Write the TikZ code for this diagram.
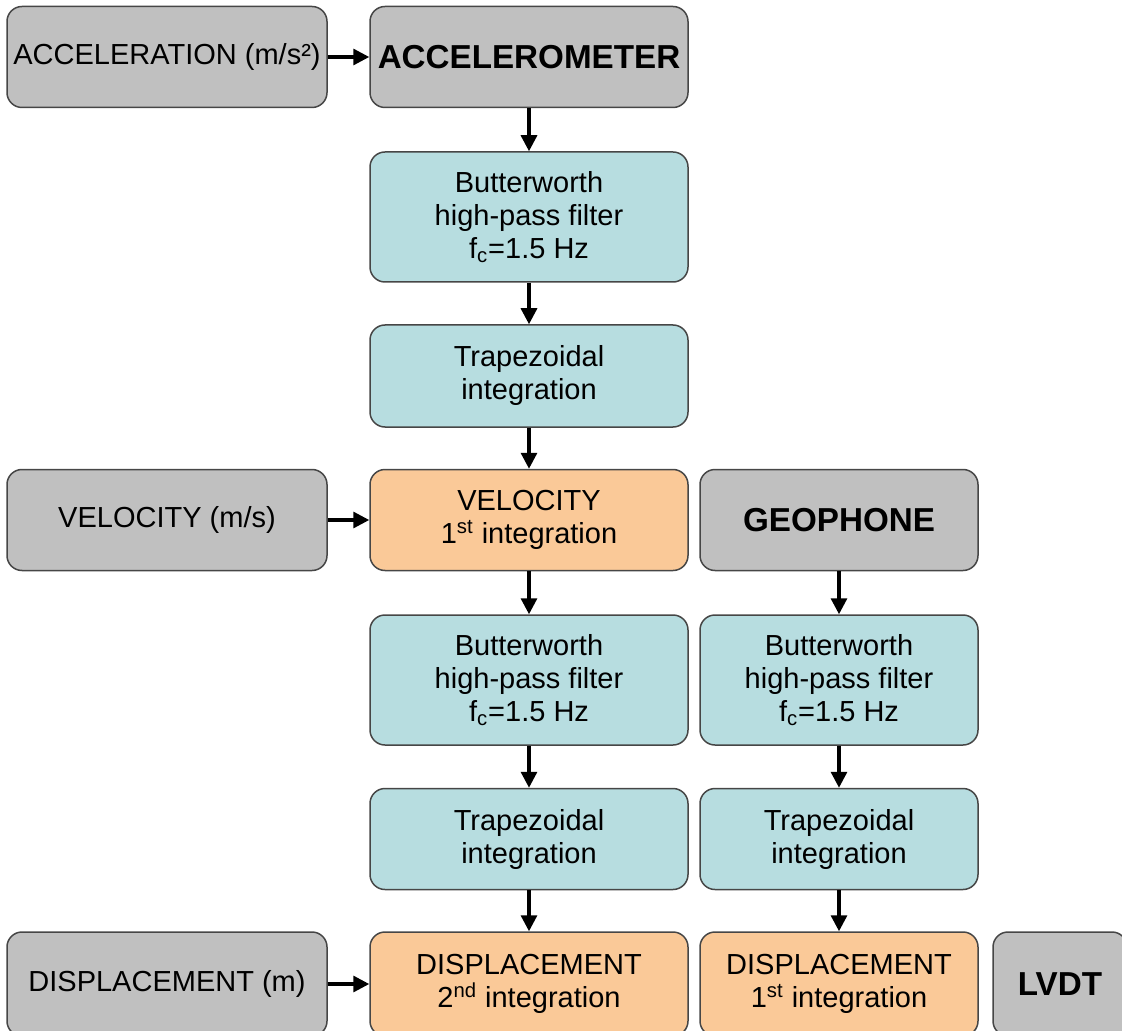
\documentclass[tikz,border=0pt]{standalone}
\usepackage{fontspec}
\setmainfont{Liberation Sans}
\usetikzlibrary{arrows.meta,positioning}
\definecolor{grayfill}{RGB}{192,192,192}
\definecolor{tealfill}{RGB}{183,221,224}
\definecolor{peachfill}{RGB}{250,201,152}
\definecolor{edge}{RGB}{70,70,70}

\begin{document}
\begin{tikzpicture}[x=0.5pt,y=-0.5pt,>={Triangle[width=8pt,length=8pt]},
font=\fontsize{14.5}{16.5}\selectfont,
box/.style={draw=edge,line width=0.75pt,rounded corners=7.5pt,align=center,inner sep=0pt,minimum width=159pt,minimum height=50.5pt},
gbox/.style={box,fill=grayfill},
tbox/.style={box,fill=tealfill},
obox/.style={box,fill=peachfill},
big/.style={font=\fontsize{16.6}{19}\selectfont\bfseries},
narrow/.style={minimum width=139pt},
arr/.style={->,line width=1.6pt}]
\useasboundingbox (0,0) rectangle (1122,1031);
\node[gbox,minimum width=160pt] (accin) at (167,57) {ACCELERATION (m/s²)};
\node[gbox,big] (accel) at (529,57) {ACCELEROMETER};
\node[tbox,minimum height=65pt] (bwa) at (529,217) {Butterworth\\high-pass filter\\f\textsubscript{c}=1.5 Hz};
\node[tbox,minimum height=51pt] (trapa) at (529,376) {Trapezoidal\\integration};
\node[gbox,minimum width=160pt] (velin) at (167,520) {VELOCITY (m/s)};
\node[obox] (vel) at (529,520) {VELOCITY\\1\textsuperscript{st} integration};
\node[gbox,narrow,big] (geo) at (839,520) {GEOPHONE};
\node[tbox,minimum height=65pt] (bwb) at (529,680) {Butterworth\\high-pass filter\\f\textsubscript{c}=1.5 Hz};
\node[tbox,narrow,minimum height=65pt] (bwc) at (839,680) {Butterworth\\high-pass filter\\f\textsubscript{c}=1.5 Hz};
\node[tbox] (trapb) at (529,839) {Trapezoidal\\integration};
\node[tbox,narrow] (trapc) at (839,839) {Trapezoidal\\integration};
\node[gbox,minimum width=160pt,minimum height=52pt] (dispin) at (167,984) {DISPLACEMENT (m)};
\node[obox,minimum height=52pt] (dispb) at (529,984) {DISPLACEMENT\\2\textsuperscript{nd} integration};
\node[obox,narrow,minimum height=52pt] (dispa) at (839,984) {DISPLACEMENT\\1\textsuperscript{st} integration};
\node[gbox,big,minimum width=67pt,minimum height=52pt] (lvdt) at (1060,984) {LVDT};
\draw[arr] (accin)--(accel);
\draw[arr] (accel)--(bwa);
\draw[arr] (bwa)--(trapa);
\draw[arr] (trapa)--(vel);
\draw[arr] (velin)--(vel);
\draw[arr] (vel)--(bwb);
\draw[arr] (geo)--(bwc);
\draw[arr] (bwb)--(trapb);
\draw[arr] (bwc)--(trapc);
\draw[arr] (trapb)--(dispb);
\draw[arr] (trapc)--(dispa);
\draw[arr] (dispin)--(dispb);
\end{tikzpicture}
\end{document}
